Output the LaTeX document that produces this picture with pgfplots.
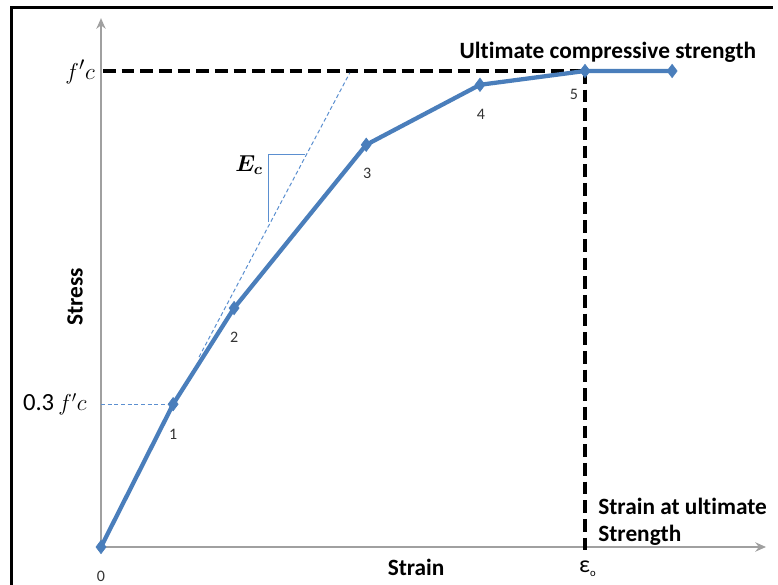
\documentclass[border=0pt]{standalone}
\usepackage{amsmath}
\usepackage{bm}
\usepackage{pgfplots}
\pgfplotsset{compat=1.18}
\usepackage{fontspec}
\setmainfont{Carlito}[Ligatures=NoCommon]
\usetikzlibrary{arrows.meta}

\definecolor{curveblue}{HTML}{4A7EBB}
\definecolor{tanblue}{HTML}{5B8FD0}
\definecolor{axisgray}{HTML}{A0A0A0}

% stress-strain points: strain normalised by eps_0, stress by f'c
\pgfplotstableread{
x      y
0      0
0.149  0.300
0.275  0.502
0.548  0.845
0.783  0.971
1.000  1.000
1.180  1.000
}\curve

\begin{document}
\begin{tikzpicture}
\begin{axis}[
  scale only axis,
  width=583.5pt, height=438.75pt,
  xmin=-0.20868, xmax=1.39876,
  ymin=-0.07983, ymax=1.14916,
  axis lines=none,
  clip=false,
]
% frame (left and top edges)
\draw[black, line width=2.25pt] (axis cs:-0.1839,-0.0798) -- (axis cs:-0.1839,1.1324) -- (axis cs:1.3884,1.1324);

% axes
\draw[axisgray, line width=1.1pt, -{Stealth[length=8pt,width=7pt]}] (axis cs:0,0) -- (axis cs:1.374,0);
\draw[axisgray, line width=1.1pt, -{Stealth[length=8pt,width=7pt]}] (axis cs:0,0) -- (axis cs:0,1.111);

% f'c level and strain at ultimate strength
\addplot[black, line width=2.4pt, dash pattern=on 9.5pt off 4.5pt] coordinates {(0.004,1) (1.18,1)};
\addplot[black, line width=2.4pt, dash pattern=on 9.5pt off 4.5pt] coordinates {(1,1) (1,-0.006)};

% initial tangent (E_c) and 0.3 f'c level
\addplot[tanblue, line width=0.75pt, dash pattern=on 3pt off 2pt] coordinates {(0.2025,0.399) (0.514,0.996)};
\addplot[tanblue, line width=0.75pt, dash pattern=on 3pt off 2pt] coordinates {(0,0.3) (0.149,0.3)};
\addplot[tanblue, line width=0.75pt] coordinates {(0.421,0.824) (0.347,0.824) (0.347,0.683)};

% curve
\addplot[curveblue, line width=3.2pt, mark=diamond*, mark size=5pt,
  mark options={solid, fill=curveblue, draw=curveblue, line width=0.5pt}]
  table[x=x, y=y] {\curve};

% point numbers
\begin{scope}[font=\fontsize{12pt}{14pt}\selectfont, text=black!80]
\node at (axis cs:0,-0.061) {0};
\node at (axis cs:0.149,0.237) {1};
\node at (axis cs:0.275,0.441) {2};
\node at (axis cs:0.550,0.784) {3};
\node at (axis cs:0.785,0.908) {4};
\node at (axis cs:0.977,0.950) {5};
\end{scope}

% labels
\node[font=\bfseries\fontsize{17.5pt}{20pt}\selectfont] at (axis cs:1.0475,1.040) {Ultimate compressive strength};
\node[font=\bfseries\fontsize{17.5pt}{20pt}\selectfont] at (axis cs:0.651,-0.042) {Strain};
\node[font=\bfseries\fontsize{17.5pt}{20pt}\selectfont, rotate=90] at (axis cs:-0.0537,0.525) {Stress};
\node[font=\bfseries\fontsize{17.5pt}{20pt}\selectfont, anchor=west, inner sep=0pt] at (axis cs:1.027,0.086) {Strain at ultimate};
\node[font=\bfseries\fontsize{17.5pt}{20pt}\selectfont, anchor=west, inner sep=0pt] at (axis cs:1.027,0.025) {Strength};
\node[font=\fontsize{18pt}{20pt}\selectfont] at (axis cs:1.005,-0.046) {ε\raisebox{-0.3ex}{\fontsize{8pt}{9pt}\selectfont o}};
\node[anchor=east, inner sep=0pt, font=\fontsize{19pt}{21pt}\selectfont] at (axis cs:-0.0124,0.998) {$f'c$};
\node[anchor=east, inner sep=0pt, font=\fontsize{18.5pt}{21pt}\selectfont] at (axis cs:-0.029,0.300) {0.3\,$f'c$};
\node[font=\fontsize{18pt}{21pt}\selectfont] at (axis cs:0.306,0.8025) {$\bm{E_c}$};
\end{axis}
\pgfresetboundingbox
\path (0,0) rectangle (583.5pt,438.75pt);
\end{tikzpicture}
\end{document}
